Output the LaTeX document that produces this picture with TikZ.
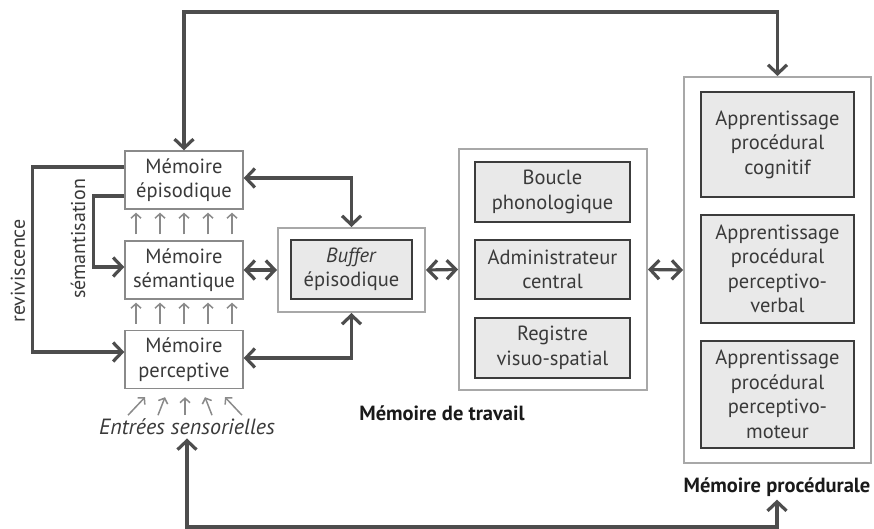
\documentclass[tikz,border=0pt]{standalone}
\usepackage{fontspec}
\setmainfont{PT Sans}
\usetikzlibrary{arrows.meta,calc}
\definecolor{conncol}{HTML}{4D4D4D}
\definecolor{memcol}{HTML}{8A8A8A}
\definecolor{outcol}{HTML}{A8A8A8}
\definecolor{incol}{HTML}{3C3C3C}
\definecolor{infill}{HTML}{E9E9E9}
\definecolor{txtcol}{HTML}{3A3A3A}
\definecolor{lblcol}{HTML}{1A1A1A}
\tikzset{
  boxfont/.style={font=\fontsize{20.5}{24.5}\selectfont, text=txtcol},
  membox/.style={draw=memcol, line width=1.4pt, fill=white, align=center, inner sep=0pt, boxfont},
  outbox/.style={draw=outcol, line width=2pt, fill=white, inner sep=0pt},
  inbox/.style={draw=incol, line width=2.2pt, fill=infill, align=center, inner sep=0pt, boxfont},
  conn/.style={draw=conncol, line width=3.2pt, arrows={-}},
  bothtips/.style={arrows={Straight Barb[length=9pt,width=19pt]-Straight Barb[length=9pt,width=19pt]}},
  endtip/.style={arrows={-Straight Barb[length=9pt,width=19pt]}},
  small/.style={draw=memcol, line width=1.5pt, arrows={-Straight Barb[length=4.5pt,width=10pt]}},
  biglabel/.style={font=\fontsize{20.5}{24}\bfseries\selectfont, text=lblcol, inner sep=0pt},
  sidelabel/.style={font=\fontsize{20}{22}\selectfont, text=txtcol, inner sep=0pt, rotate=90}
}
\begin{document}
\begin{tikzpicture}[x=1pt,y=-1pt]
\useasboundingbox (0,0) rectangle (874,529);
% memory boxes
\node[membox, minimum width=118pt, minimum height=58pt] (epi) at (184,180) {Mémoire\\épisodique};
\node[membox, minimum width=118pt, minimum height=58pt] (sem) at (184,270) {Mémoire\\sémantique};
\node[membox, minimum width=118pt, minimum height=58pt] (per) at (184,359.5) {Mémoire\\perceptive};
\node[font=\fontsize{22}{24}\itshape\selectfont, text=txtcol, inner sep=0pt, anchor=base] (ent) at (187,434) {Entrées sensorielles};
% buffer
\node[outbox, minimum width=147pt, minimum height=84pt] (bufout) at (351.5,270) {};
\node[inbox, minimum width=121pt, minimum height=59pt] (bufin) at (351.5,269.5) {\textit{Buffer}\\épisodique};
% working memory
\node[outbox, minimum width=188pt, minimum height=241pt] (wm) at (553,269.5) {};
\node[inbox, minimum width=155pt, minimum height=60pt] (wm1) at (552.5,192) {Boucle\\phonologique};
\node[inbox, minimum width=155pt, minimum height=59pt] (wm2) at (552.5,269.5) {Administrateur\\central};
\node[inbox, minimum width=155pt, minimum height=60pt] (wm3) at (552.5,348) {Registre\\visuo-spatial};
\node[biglabel] (wmlbl) at (442,413) {Mémoire de travail};
% procedural memory
\node[outbox, minimum width=187pt, minimum height=386pt] (proc) at (777.5,270) {};
\node[inbox, minimum width=153pt, minimum height=105pt] (p1) at (777.5,144.5) {Apprentissage\\procédural\\cognitif};
\node[inbox, minimum width=153pt, minimum height=108pt] (p2) at (777.5,269) {Apprentissage\\procédural\\perceptivo-\\verbal};
\node[inbox, minimum width=153pt, minimum height=107pt] (p3) at (777.5,394.5) {Apprentissage\\procédural\\perceptivo-\\moteur};
\node[biglabel] (plbl) at (777,487) {Mémoire procédurale};
% side labels
\node[sidelabel] (rev) at (18,271) {reviviscence};
\node[sidelabel] (semlbl) at (78,239) {sémantisation};
% connectors
\draw[conn, bothtips] (epi.north) -- (epi.north |- 0,12) -| (proc.north);
\draw[conn, bothtips] ([yshift=-4pt]ent.south) -- ([yshift=-4pt]ent.south |- 0,523) -| ([yshift=-3pt]plbl.south);
\draw[conn, bothtips] ([yshift=2pt]epi.east) -| (bufout.north);
\draw[conn, bothtips] ([yshift=1.5pt]per.east) -| (bufout.south);
\draw[conn, bothtips] (sem.east) -- (bufout.west);
\draw[conn, bothtips] (bufout.east) -- (wm.west);
\draw[conn, bothtips] (wm.east) -- (proc.west);
\draw[conn, endtip] ([yshift=13pt]epi.west) -- ++(-92,0) |- ([yshift=7.5pt]per.west);
\draw[conn, endtip] ([yshift=-16pt]epi.west) -- ++(-31,0) |- ([yshift=3pt]sem.west);
% small arrows
\foreach \dx in {-48,-24,0,24,48} {
  \draw[small] ([xshift=\dx pt, yshift=6pt]sem.north) -- ([xshift=\dx pt, yshift=-3pt]epi.south);
  \draw[small] ([xshift=\dx pt, yshift=6pt]per.north) -- ([xshift=\dx pt, yshift=-3pt]sem.south);
}
\draw[small] ($(per.south)+(-56,26)$) -- ($(per.south)+(-39,8)$);
\draw[small] ($(per.south)+(-26,26)$) -- ($(per.south)+(-19,8)$);
\draw[small] ($(per.south)+(1,26)$) -- ($(per.south)+(1,8)$);
\draw[small] ($(per.south)+(28,26)$) -- ($(per.south)+(21,8)$);
\draw[small] ($(per.south)+(58,26)$) -- ($(per.south)+(41,8)$);
\end{tikzpicture}
\end{document}
